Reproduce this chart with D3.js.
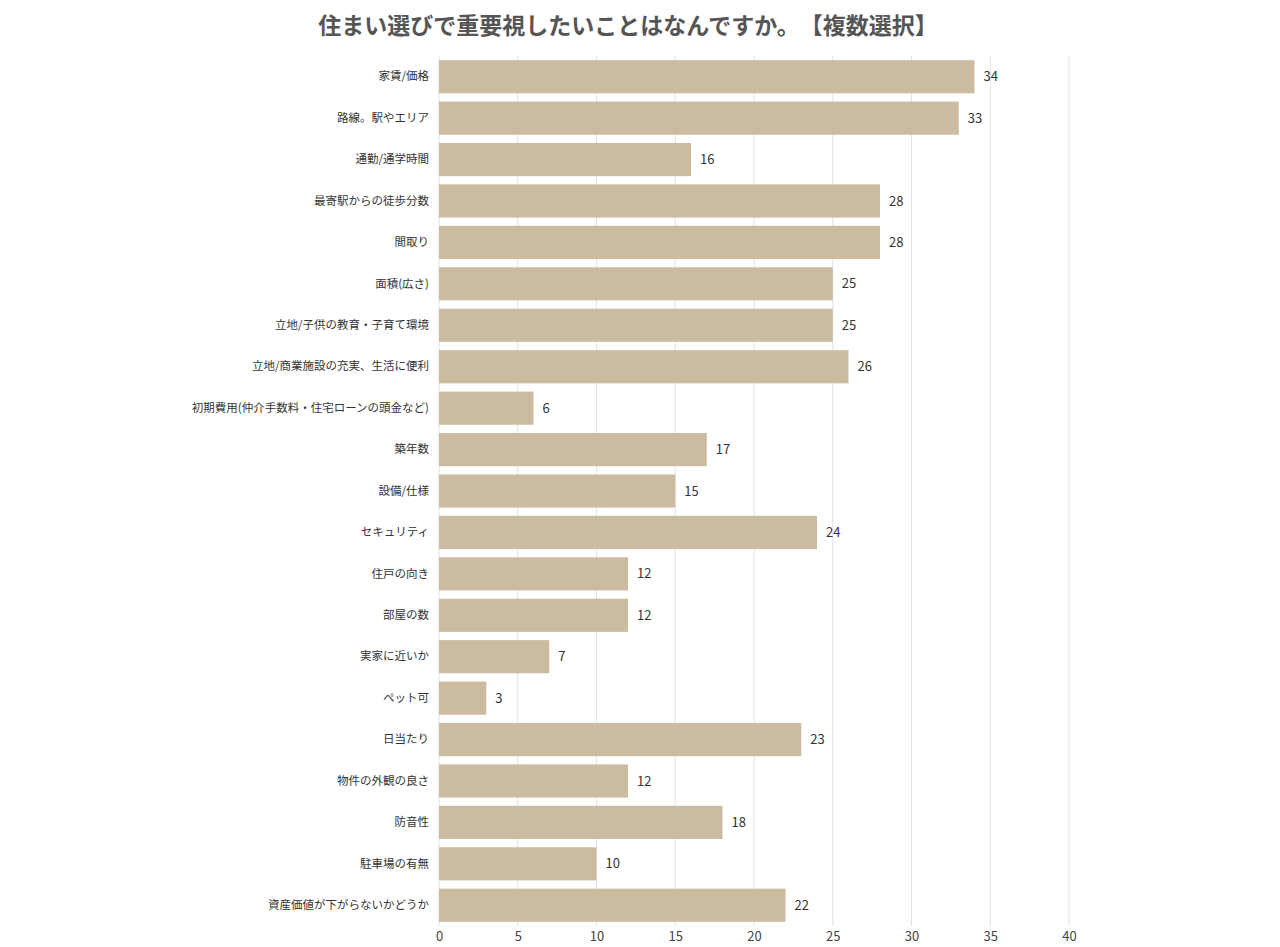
<!DOCTYPE html>
<html>
<head>
<meta charset="utf-8">
<script src="https://cdn.jsdelivr.net/npm/d3@7"></script>
<style>
  body { margin: 0; background: #fff; }
  text { font-family: "Noto Sans CJK JP", "Noto Sans", sans-serif; }
  .title { text-spacing-trim: space-all; }
</style>
</head>
<body>
<div id="chart"></div>
<script>
// data
var categories = [
  "家賃/価格", "路線。駅やエリア", "通勤/通学時間", "最寄駅からの徒歩分数", "間取り",
  "面積(広さ)", "立地/子供の教育・子育て環境", "立地/商業施設の充実、生活に便利",
  "初期費用(仲介手数料・住宅ローンの頭金など)", "築年数", "設備/仕様", "セキュリティ",
  "住戸の向き", "部屋の数", "実家に近いか", "ペット可", "日当たり", "物件の外観の良さ",
  "防音性", "駐車場の有無", "資産価値が下がらないかどうか"
];
var counts = [34, 33, 16, 28, 28, 25, 25, 26, 6, 17, 15, 24, 12, 12, 7, 3, 23, 12, 18, 10, 22];
var xTicks = [0, 5, 10, 15, 20, 25, 30, 35, 40];
var title = "住まい選びで重要視したいことはなんですか。【複数選択】";

var width = 1280, height = 947;
var margin = {top: 56, right: 211, bottom: 21, left: 439};

var svg = d3.select("#chart")
  .append("svg")
    .attr("width", width)
    .attr("height", height);

var x = d3.scaleLinear()
    .domain([0, 40])
    .range([margin.left, width - margin.right]);

var y = d3.scaleBand()
    .domain(categories)
    .range([margin.top, height - margin.bottom])
    .paddingInner(0.2)
    .paddingOuter(0.1);

// title
svg.append("text")
    .attr("class", "title")
    .attr("x", 628)
    .attr("y", 34)
    .attr("text-anchor", "middle")
    .attr("font-size", 23)
    .attr("font-weight", "bold")
    .attr("fill", "#555")
    .text(title);

// gridlines
svg.append("g")
  .selectAll("line")
  .data(xTicks)
  .enter()
  .append("line")
    .attr("x1", function(d) { return x(d); })
    .attr("x2", function(d) { return x(d); })
    .attr("y1", margin.top)
    .attr("y2", height - margin.bottom)
    .attr("stroke", "#e2e2e2")
    .attr("stroke-width", 1);

// bars
svg.append("g")
  .selectAll("rect")
  .data(categories)
  .enter()
  .append("rect")
    .attr("x", x(0))
    .attr("y", function(d) { return y(d); })
    .attr("width", function(d, i) { return x(counts[i]) - x(0); })
    .attr("height", y.bandwidth())
    .attr("fill", "#cbbba0");

// value labels
svg.append("g")
  .selectAll("text")
  .data(categories)
  .enter()
  .append("text")
    .attr("x", function(d, i) { return x(counts[i]) + 9; })
    .attr("y", function(d) { return y(d) + y.bandwidth() / 2; })
    .attr("dy", "0.35em")
    .attr("font-size", 13)
    .attr("fill", "#333")
    .text(function(d, i) { return counts[i]; });

// y axis (category labels)
var yAxis = svg.append("g")
    .attr("transform", "translate(" + (margin.left - 10) + ",0)")
    .call(d3.axisLeft(y).tickSize(0).tickPadding(0));
yAxis.select(".domain").remove();
yAxis.selectAll("text")
    .attr("font-size", 11.5)
    .attr("fill", "#333")
    .style("font-family", '"Noto Sans CJK JP", sans-serif');

// x axis
var xAxis = svg.append("g")
    .attr("transform", "translate(0," + (height - margin.bottom) + ")")
    .call(d3.axisBottom(x).tickValues(xTicks).tickSize(0).tickPadding(6));
xAxis.select(".domain").remove();
xAxis.selectAll("text")
    .attr("font-size", 13)
    .attr("fill", "#444")
    .style("font-family", '"Noto Sans CJK JP", sans-serif');
</script>
</body>
</html>
